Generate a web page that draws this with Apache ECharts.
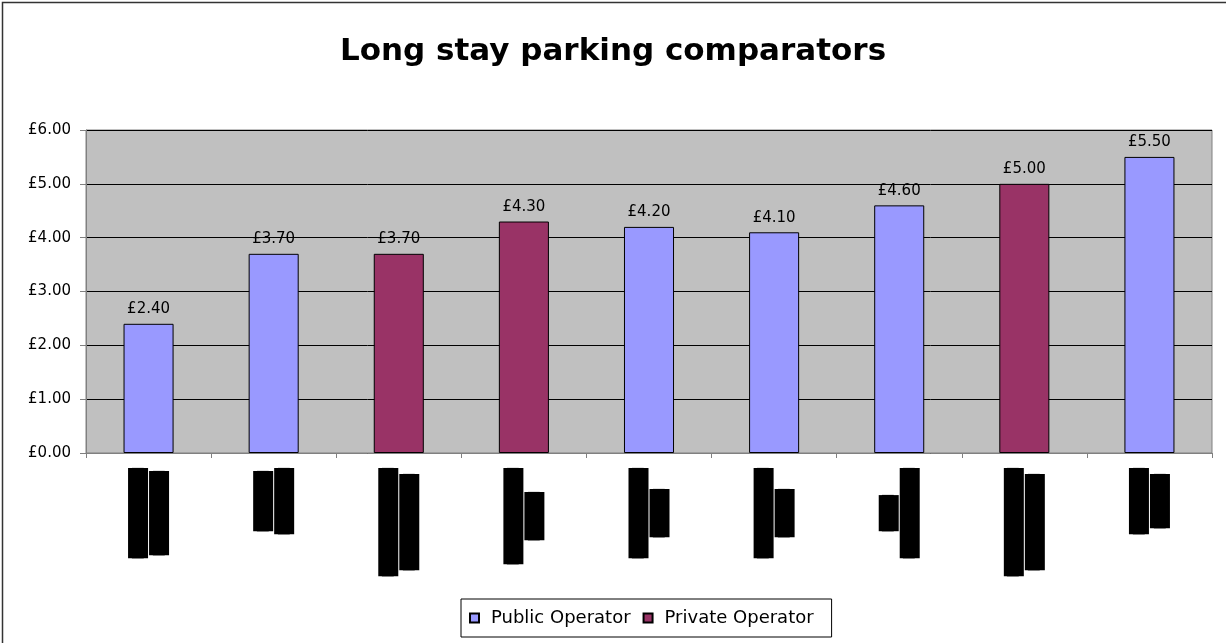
<!DOCTYPE html>
<html>
<head>
<meta charset="utf-8">
<script src="https://cdn.jsdelivr.net/npm/echarts@6/dist/echarts.min.js"></script>
<style>
html,body{margin:0;padding:0;background:#fff;}
#chart{width:1226px;height:643px;}
</style>
</head>
<body>
<div id="chart"></div>
<script>
// Category labels in the source are redacted (shown as black bars); two lines each.
var categories = [
  "███████████████\n██████████████",
  "██████████\n███████████",
  "██████████████████\n████████████████",
  "████████████████\n████████",
  "███████████████\n████████",
  "███████████████\n████████",
  "██████\n███████████████",
  "██████████████████\n████████████████",
  "███████████\n█████████"
];
var publicOperator  = [2.40, 3.70, '-', '-', 4.20, 4.10, 4.60, '-', 5.50];
var privateOperator = ['-', '-', 3.70, 4.30, '-', '-', '-', 5.00, '-'];
var yTicks = { min: 0, max: 6, interval: 1 };
var seriesNames = ['Public Operator', 'Private Operator'];

var FONT = 'DejaVu Sans';
var chart = echarts.init(document.getElementById('chart'), null, { renderer: 'canvas' });

function money(v) { return '£' + Number(v).toFixed(2); }

var labelCommon = {
  show: true,
  position: 'top',
  distance: 7,
  color: '#000',
  fontFamily: FONT,
  fontSize: 15,
  formatter: function (p) { return money(p.value); }
};

chart.setOption({
  animation: false,
  backgroundColor: '#fff',
  title: {
    text: 'Long stay parking comparators',
    left: 'center',
    top: 31,
    textStyle: { fontFamily: FONT, fontWeight: 'bold', fontSize: 31, color: '#000' }
  },
  grid: {
    left: 86, right: 14, top: 130, bottom: 190,
    show: true,
    backgroundColor: '#c0c0c0',
    borderColor: '#808080',
    borderWidth: 1
  },
  legend: {
    data: seriesNames,
    left: 461,
    bottom: 6,
    orient: 'horizontal',
    padding: [10, 18, 10, 8],
    itemGap: 12,
    itemWidth: 9,
    itemHeight: 9,
    borderColor: '#000',
    borderWidth: 1,
    icon: 'rect',
    textStyle: { fontFamily: FONT, fontSize: 18, color: '#000', padding: [0, 0, 0, 7] }
  },
  xAxis: {
    type: 'category',
    data: categories,
    axisLine: { show: true, lineStyle: { color: '#808080', width: 1 } },
    axisTick: { show: true, alignWithLabel: false, length: 5, lineStyle: { color: '#808080' } },
    axisLabel: {
      interval: 0,
      rotate: 90,
      margin: 15,
      formatter: function (v) {
        return v.split('\n').map(function (s) { return '{b|' + s + '}'; }).join('\n');
      },
      rich: {
        b: {
          fontFamily: 'DejaVu Sans Mono',
          fontSize: 10,
          color: '#000',
          backgroundColor: '#000',
          height: 20,
          lineHeight: 21,
          align: 'center'
        }
      }
    },
    splitLine: { show: false }
  },
  yAxis: {
    type: 'value',
    min: yTicks.min,
    max: yTicks.max,
    interval: yTicks.interval,
    axisLine: { show: true, lineStyle: { color: '#808080' } },
    axisTick: { show: true, length: 6, lineStyle: { color: '#808080' } },
    axisLabel: {
      margin: 15,
      color: '#000',
      fontFamily: FONT,
      fontSize: 15,
      formatter: money
    },
    splitLine: { show: true, lineStyle: { color: '#000', width: 1 } }
  },
  series: [
    {
      name: seriesNames[0],
      type: 'bar',
      data: publicOperator,
      barWidth: '40%',
      barGap: '-100%',
      itemStyle: { color: '#9999ff', borderColor: '#000', borderWidth: 1 },
      label: labelCommon
    },
    {
      name: seriesNames[1],
      type: 'bar',
      data: privateOperator,
      barWidth: '40%',
      barGap: '-100%',
      itemStyle: { color: '#993366', borderColor: '#000', borderWidth: 1 },
      label: labelCommon
    }
  ],
  graphic: [
    {
      type: 'rect',
      silent: true,
      shape: { x: 2.5, y: 2.5, width: 1300, height: 700 },
      style: { fill: null, stroke: '#333', lineWidth: 1.5 },
      z: 100
    }
  ]
});
</script>
</body>
</html>
